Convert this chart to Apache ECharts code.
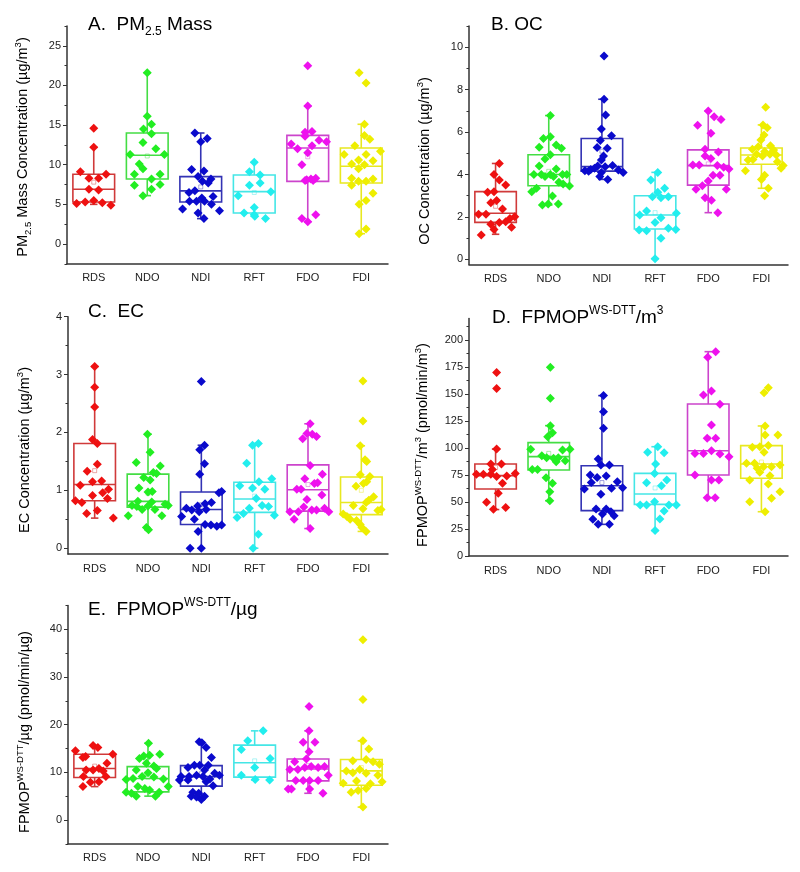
<!DOCTYPE html>
<html><head><meta charset="utf-8">
<script src="https://cdn.jsdelivr.net/npm/echarts@6/dist/echarts.min.js"></script>
<style>html,body{margin:0;padding:0;background:#fff}#c{width:800px;height:872px}</style>
</head><body><div id="c"></div>
<script>
// ---------- DATA ----------
const categories = ['RDS', 'NDO', 'NDI', 'RFT', 'FDO', 'FDI'];

// A. PM2.5 mass (µg/m3)
const pmTicks = [0, 5, 10, 15, 20, 25];
const pmMinor = [-2.5, 2.5, 7.5, 12.5, 17.5, 22.5, 27.5];
const pmBoxes = [[5.0,5.3,6.9,8.8,12.2],[6.1,8.2,11.2,14.0,21.6],[3.2,5.3,6.7,8.5,14.0],[3.5,3.9,6.6,8.7,10.3],[2.8,7.9,12.1,13.7,17.4],[1.3,7.7,9.8,12.1,15.1]];
const pmMeans = [7.8, 11.1, 7.2, 6.5, 11.0, 10.0];
const pmValues = [
  [14.6,12.2,9.1,8.3,8.3,8.8,6.9,6.8,5.1,5.3,5.5,5.2,4.9],
  [21.6,16.1,14.5,15.1,13.9,12.8,11.3,11.3,12.0,10.1,9.5,8.8,8.8,8.2,7.4,7.5,6.9,6.1],
  [14.0,13.3,12.9,9.4,9.2,8.5,8.2,7.7,7.9,6.5,6.7,6.0,5.8,5.4,5.4,5.4,5.0,4.4,4.2,3.9,3.2],
  [10.3,9.1,8.7,7.7,7.4,6.1,6.6,4.6,3.9,3.7,3.5,3.2],
  [22.5,17.4,14.1,14.2,13.6,12.6,13.1,12.9,12.0,12.4,11.5,10.0,8.0,8.2,8.3,8.0,8.1,3.2,3.7,2.8],
  [21.6,20.3,15.1,13.7,13.2,12.4,11.3,11.7,11.3,10.6,10.5,10.1,10.0,9.5,8.3,7.9,7.9,8.2,7.4,6.4,5.5,5.0,1.9,1.3]
];
const pmJitter = [
  [0,0,-0.25,-0.09,0.09,0.23,-0.09,0.09,-0.32,-0.16,0,0.16,0.32],
  [0,0,-0.07,0.08,0.08,-0.08,-0.32,0.32,0.16,-0.15,-0.08,-0.24,0.24,0.08,-0.24,0.24,0.08,-0.08],
  [-0.11,0.12,0,-0.17,0.06,-0.05,0.19,0.14,0.03,-0.22,-0.11,0.23,0.02,-0.21,-0.08,0.07,0.2,-0.34,0.35,-0.05,0.06],
  [0,-0.09,0.11,0.11,-0.09,-0.3,0.31,0,-0.19,0,0.01,0.21],
  [0,0,-0.05,0.08,-0.05,-0.31,0.21,0.35,-0.19,0.08,0,-0.11,-0.05,0.06,0.15,0.1,-0.02,-0.11,0.15,0],
  [-0.04,0.09,0.06,0.06,0.16,-0.12,-0.32,0.36,0.09,-0.05,0.22,-0.18,0.06,-0.05,-0.18,-0.05,0.09,0.22,-0.18,0.22,0.09,-0.04,0.09,-0.04]
];

// B. OC (µg/m3)
const ocTicks = [0, 2, 4, 6, 8, 10];
const ocMinor = [1, 3, 5, 7, 9, 11];
const ocBoxes = [[1.18,1.74,2.17,3.19,4.52],[2.56,3.47,4.0,4.93,6.78],[3.77,4.16,4.37,5.7,7.55],[0.03,1.43,2.09,3.0,4.1],[2.2,3.5,4.42,5.16,7.0],[3.35,4.48,4.92,5.25,6.34]];
const ocMeans = [2.5, 4.15, 5.1, 2.2, 4.5, 4.9];
const ocValues = [
  [4.52,4.0,3.74,3.5,3.16,3.19,2.67,2.77,2.37,2.12,2.12,2.01,1.93,1.65,1.74,1.77,1.51,1.41,1.15],
  [6.78,5.7,5.78,5.28,5.39,5.24,4.73,4.93,4.4,4.26,4.0,4.0,4.0,3.9,3.9,4.0,4.0,3.63,3.55,3.46,3.35,3.19,2.99,2.56,2.61,2.61],
  [9.59,7.55,6.81,6.15,5.83,5.6,5.24,5.27,4.87,4.68,4.18,4.24,4.4,4.37,4.42,4.21,4.09,4.09,3.9,3.77,4.15,4.3],
  [4.1,3.74,3.35,3.16,2.9,2.95,2.28,2.09,1.96,2.17,1.73,1.38,1.35,1.46,1.41,0.99,0.03,2.95],
  [7.0,6.72,6.6,6.32,5.94,5.19,5.06,4.87,4.76,4.45,4.45,4.42,4.34,4.26,3.97,3.97,3.69,3.47,3.3,3.3,2.9,2.79,2.2],
  [7.17,6.34,6.2,5.86,5.63,5.31,5.36,5.19,5.08,5.16,4.95,4.87,4.95,4.92,4.68,4.71,4.6,4.42,4.29,4.18,3.97,3.77,3.35,3.0]
];
const ocJitter = [
  [0.07,-0.03,0.07,0.19,-0.15,-0.03,-0.09,0.02,0.13,-0.32,-0.18,0.36,0.27,-0.09,0.07,0.19,0.3,-0.03,-0.27],
  [0.03,-0.1,0.03,-0.18,0.14,0.24,-0.07,0.03,-0.18,0.14,-0.28,-0.14,0.03,-0.07,0.09,0.26,0.34,0.19,0.27,0.39,-0.23,-0.32,0.07,-0.12,-0.01,0.18],
  [0.04,0.04,0.07,-0.01,0.18,-0.03,0.1,-0.09,0.03,-0.01,-0.32,-0.21,-0.08,0.06,0.2,0.31,0.4,-0.01,-0.04,0.11,-0.25,-0.14],
  [0.05,-0.08,0.18,0.05,0.11,0.25,-0.16,-0.29,0.11,0.4,0,-0.3,-0.16,0.25,0.39,0.11,0,-0.05],
  [0,0.11,0.24,-0.2,0.05,-0.06,0.19,-0.06,0.05,-0.29,-0.17,0.17,0.29,0.39,0.09,0.22,0,-0.11,-0.23,0.34,-0.06,0.06,0.18],
  [0.08,0.03,0.11,0.05,-0.01,-0.06,0.17,-0.17,0.06,0.23,-0.09,0.02,0.16,0.28,-0.25,-0.16,0.3,0.41,0.37,-0.3,0.06,0,0.13,0.06]
];

// C. EC (µg/m3)
const ecTicks = [0, 1, 2, 3, 4];
const ecMinor = [0.5, 1.5, 2.5, 3.5];
const ecBoxes = [[0.52,0.82,1.1,1.81,3.14],[0.32,0.71,0.81,1.28,1.97],[0,0.41,0.67,0.97,1.78],[0,0.62,0.85,1.14,1.81],[0.34,0.64,1.01,1.44,2.15],[0.29,0.58,0.79,1.23,1.77]];
const ecMeans = [1.34, 0.95, 0.75, 0.9, 1.1, 1.0];
const ecValues = [
  [3.14,2.78,2.44,1.88,1.81,1.45,1.33,1.09,1.15,1.16,1.02,0.96,0.91,0.86,0.82,0.79,0.6,0.65,0.52],
  [1.97,1.66,1.48,1.42,1.22,1.31,1.29,1.18,1.04,0.97,0.98,0.81,0.8,0.74,0.72,0.67,0.73,0.67,0.76,0.74,0.56,0.56,0.36,0.32],
  [2.88,1.78,1.7,1.46,1.28,0.96,0.98,0.79,0.77,0.73,0.69,0.66,0.63,0.67,0.55,0.5,0.41,0.4,0.38,0.4,0.29,0,0],
  [1.78,1.81,1.47,1.2,1.15,1.08,1.04,1.02,0.86,0.74,0.72,0.69,0.57,0.6,0.53,0.24,0],
  [2.15,1.98,1.97,1.93,1.89,1.43,1.28,1.2,1.12,1.13,1.02,1.02,0.92,0.84,0.63,0.63,0.71,0.66,0.66,0.69,0.63,0.5,0.34],
  [2.89,2.2,1.77,1.53,1.5,1.27,1.24,1.15,1.12,1.07,0.89,0.83,0.79,0.74,0.68,0.65,0.67,0.59,0.55,0.5,0.48,0.41,0.36,0.29]
];
const ecJitter = [
  [0,0,0,-0.04,0.05,0.05,-0.14,-0.27,-0.04,0.13,0.26,0.15,-0.04,0.24,-0.36,-0.24,-0.15,0.05,0.35],
  [-0.01,0.04,-0.22,0.23,-0.08,0.1,0.16,0.04,-0.17,0,0.08,-0.19,0.07,-0.3,-0.21,-0.11,0,0.13,0.32,0.38,-0.37,0.26,-0.03,0.01],
  [0,0.06,-0.03,0.06,-0.03,0.33,0.38,0.19,0.07,-0.07,-0.28,-0.18,-0.04,0.09,-0.37,-0.13,0.07,0.18,0.29,0.38,-0.06,-0.21,0],
  [-0.04,0.07,-0.15,0.32,0.08,-0.28,-0.04,0.19,0.03,0.14,0.26,-0.1,0.37,-0.21,-0.33,0.07,-0.03],
  [0.04,-0.02,0.08,0.16,-0.1,0.04,0.27,-0.06,0.12,0.18,-0.21,-0.13,0.26,-0.02,-0.34,-0.18,-0.08,0.07,0.16,0.31,0.39,-0.26,0.04],
  [0.03,0.03,-0.02,0.07,0.1,-0.02,0.16,0.1,0.04,-0.1,0.23,0.14,0.09,-0.15,0.03,0.31,0.37,-0.34,-0.27,-0.21,-0.09,-0.02,0.01,0.09]
];

// D. FPMOP WS-DTT per m3 (pmol/min/m3)
const m3Ticks = [0, 25, 50, 75, 100, 125, 150, 175, 200];
const m3Minor = [12.5, 37.5, 62.5, 87.5, 112.5, 137.5, 162.5, 187.5, 212.5];
const m3Boxes = [[43,62,74.4,85.2,99],[51.2,79.6,92,105,120.7],[29.3,42,65.1,83.6,148.5],[23.5,47.8,57.4,76.5,101.2],[54,75,97.5,140.7,189.2],[41,72,85.2,102.2,120.4]];
const m3Means = [82, 95, 68, 63, 109, 87];
const m3Values = [
  [170,155,99,85.2,85.2,80,75.6,75.6,75.6,73.5,74,76.5,67.3,58,49.7,43.2,44.8],
  [174.7,146,120.7,114.2,110.5,98.8,98.1,98.8,92.9,91,90.4,91,88.3,87.3,80.2,80.2,72.5,67.3,59.6,51.2],
  [148.5,133.6,118.2,89.8,84.3,84.3,75,72.8,74,68.8,68,63.3,62.7,62,57.1,43.5,43.5,41,38.9,37.3,34,29.3,29.3],
  [101.2,96,95.7,85.2,76.5,70.4,67.9,65,50.3,47.2,47.2,47.2,47.2,41.7,34.3,23.5],
  [189.2,184,152.8,149,140.4,121.3,109,109,95,95,97.5,94.4,92,75,70.4,70.4,54,54],
  [151.2,155.9,120.4,112,112,100.6,101.2,102.2,96,85.8,85.8,82.7,81.2,82.7,84.3,77.5,74.4,70.4,66.7,59.6,50.3,53.4,41]
];
const m3Jitter = [
  [0.02,0.02,0.02,-0.09,0.11,-0.06,-0.36,-0.23,-0.09,0.02,0.21,0.37,0.13,0.05,-0.17,-0.04,0.19],
  [0.03,0.03,0.03,0.07,-0.02,-0.34,0.26,0.4,-0.13,-0.04,0.09,0.18,0.31,0.14,-0.31,-0.21,-0.05,0.07,0.02,0.02],
  [0.03,0.03,0.03,-0.07,-0.02,0.14,-0.22,-0.09,0.08,0.29,-0.2,0.39,0.18,-0.33,-0.02,-0.11,0.08,0.17,0.01,0.23,-0.17,-0.07,0.14],
  [0.05,-0.14,0.17,0.01,-0.01,0.22,-0.16,0.12,-0.01,-0.28,-0.16,0.26,0.4,0.17,0.09,0],
  [0.14,-0.01,0.06,-0.09,0.22,0.06,-0.02,0.14,-0.25,-0.09,0.06,0.22,0.39,-0.25,0.2,0.06,-0.02,0.13],
  [0.05,0.13,0.07,0.07,0.31,-0.17,-0.03,0.13,0.05,-0.28,-0.13,0.04,-0.08,0.19,0.35,-0.03,0.16,-0.22,0.13,0.35,-0.22,0.19,0.07]
];

// E. FPMOP WS-DTT per µg (pmol/min/µg)
const ugTicks = [0, 10, 20, 30, 40];
const ugMinor = [-5, 5, 15, 25, 35, 45];
const ugBoxes = [[7.0,8.9,10.8,13.8,15.6],[5.0,5.9,8.7,11.2,16.1],[4.3,7.1,9.1,11.4,16.4],[8.4,9.0,12.0,15.7,18.7],[5.6,8.2,10.7,12.8,18.7],[2.7,7.3,10.3,12.7,16.6]];
const ugMeans = [11.3, 9.0, 9.7, 12.4, 11.4, 11.0];
const ugValues = [
  [14.5,13.3,15.6,15.2,13.8,13.1,11.9,10.5,10.5,10.8,10.3,9.1,9.1,7.9,8.0,7.0],
  [16.1,12.9,13.4,13.6,13.8,10.5,11.9,11.3,10.8,8.5,8.7,9.1,9.9,9.0,8.6,7.0,7.0,6.6,6.3,5.8,5.6,5.0,5.0,5.8],
  [16.4,16.2,15.2,13.1,11.5,11.5,11.5,11.0,10.5,9.4,9.8,9.1,9.1,9.4,9.1,8.6,8.4,8.4,8.0,7.2,5.8,5.6,5.0,4.8,4.3,5.0],
  [18.7,16.6,14.8,12.9,9.4,11.0,8.5,8.4],
  [23.8,18.7,16.3,16.3,14.3,12.2,12.8,10.6,10.6,11.0,11.2,11.0,11.2,9.4,8.3,8.3,8.3,8.3,6.5,6.5,6.5,5.6],
  [37.8,25.3,16.6,14.9,12.4,12.7,12.2,11.7,10.3,10.6,9.9,9.8,9.4,7.7,8.2,7.6,8.0,6.2,6.6,5.8,2.7]
];
const ugJitter = [
  [-0.36,-0.17,-0.03,0.06,0.34,-0.22,0.23,-0.16,-0.03,0.08,0.16,-0.21,0.21,-0.08,0.08,-0.22],
  [0.01,-0.16,-0.08,0.03,0.22,-0.22,-0.03,0.11,0.16,-0.41,-0.28,-0.11,0,0.11,0.29,0.38,-0.19,-0.06,0.03,-0.41,-0.31,-0.22,0.14,0.21],
  [-0.04,0.01,0.09,0.19,-0.13,-0.03,0.13,-0.25,0.06,0.34,0.25,-0.38,-0.23,-0.09,0.03,0.16,-0.41,-0.25,0.09,0.22,-0.16,-0.05,-0.19,-0.09,0,0.06],
  [0.16,-0.13,-0.25,0.29,-0.25,0,0.01,0.28],
  [0.02,0.02,-0.09,0.13,0.02,-0.25,-0.03,-0.34,-0.19,-0.06,0.06,0.19,0.31,0.38,-0.09,0.03,0.19,-0.23,-0.31,-0.37,0.03,0.28],
  [0.03,0.03,0.03,0.14,-0.16,0.09,0.22,0.34,-0.28,-0.03,-0.16,0.09,0.31,-0.34,-0.09,0.17,0.39,-0.06,0.09,-0.19,0.03]
];

// ---------- STYLE / LAYOUT ----------
const FONT = '"Liberation Sans", Arial, Helvetica, sans-serif';
const pointColors = ['#ee1111', '#22ee22', '#0a0acc', '#22eeee', '#ee11ee', '#eeee00'];
const boxColors = ['#d03a3a', '#44dd44', '#3333b4', '#44e6e6', '#cc44cc', '#e8e820'];
const AXIS = '#333';

const panels = [
  { values: pmValues, jitter: pmJitter, boxes: pmBoxes, means: pmMeans, ticks: pmTicks, minor: pmMinor, min: -2.5, max: 27.5, grid: { left: 67, top: 26, width: 321, height: 237.8 } },
  { values: ocValues, jitter: ocJitter, boxes: ocBoxes, means: ocMeans, ticks: ocTicks, minor: ocMinor, min: -0.25, max: 11, grid: { left: 469, top: 26.1, width: 319, height: 238.5 } },
  { values: ecValues, jitter: ecJitter, boxes: ecBoxes, means: ecMeans, ticks: ecTicks, minor: ecMinor, min: -0.1, max: 4, grid: { left: 68, top: 316.7, width: 320, height: 237.3 } },
  { values: m3Values, jitter: m3Jitter, boxes: m3Boxes, means: m3Means, ticks: m3Ticks, minor: m3Minor, min: 0, max: 220, grid: { left: 469, top: 318.4, width: 319, height: 237.6 } },
  { values: ugValues, jitter: ugJitter, boxes: ugBoxes, means: ugMeans, ticks: ugTicks, minor: ugMinor, min: -5, max: 45, grid: { left: 68, top: 605.5, width: 320, height: 238.3 } }
];

const grids = [], xAxes = [], yAxes = [], series = [];

function boxRender(params, api) {
  const i = api.value(0);
  const lo = api.value(1), q1 = api.value(2), md = api.value(3), q3 = api.value(4), hi = api.value(5), mn = api.value(6);
  const col = boxColors[i];
  const HW = 0.39, CW = 0.07;
  const tl = api.coord([i - HW, q3]);
  const br = api.coord([i + HW, q1]);
  const c = api.coord([i, md]);
  const pHi = api.coord([i, hi]);
  const pLo = api.coord([i, lo]);
  const cl = api.coord([i - CW, md])[0], cr = api.coord([i + CW, md])[0];
  const pm = api.coord([i, mn]);
  const ls = { stroke: col, lineWidth: 1.6, fill: 'none' };
  return {
    type: 'group',
    children: [
      { type: 'line', shape: { x1: c[0], y1: tl[1], x2: c[0], y2: pHi[1] }, style: ls },
      { type: 'line', shape: { x1: c[0], y1: br[1], x2: c[0], y2: pLo[1] }, style: ls },
      { type: 'line', shape: { x1: cl, y1: pHi[1], x2: cr, y2: pHi[1] }, style: ls },
      { type: 'line', shape: { x1: cl, y1: pLo[1], x2: cr, y2: pLo[1] }, style: ls },
      { type: 'rect', shape: { x: tl[0], y: tl[1], width: br[0] - tl[0], height: br[1] - tl[1] }, style: ls },
      { type: 'line', shape: { x1: tl[0], y1: c[1], x2: br[0], y2: c[1] }, style: ls },
      { type: 'rect', shape: { x: pm[0] - 2, y: pm[1] - 2, width: 4, height: 4 }, style: { stroke: col, lineWidth: 0.8, fill: 'none', opacity: 0.55 } }
    ]
  };
}

panels.forEach((p, g) => {
  grids.push(Object.assign({ outerBoundsMode: 'none', containLabel: false }, p.grid));
  xAxes.push({
    type: 'value', gridIndex: g, min: -0.5, max: 5.5,
    axisLine: { onZero: false, lineStyle: { color: AXIS, width: 1.5 } },
    axisTick: { show: false }, splitLine: { show: false },
    axisLabel: { customValues: [0, 1, 2, 3, 4, 5], formatter: v => categories[Math.round(v)], color: '#222', fontSize: 11, fontFamily: FONT, margin: 9 }
  });
  yAxes.push({
    type: 'value', gridIndex: g, position: 'left', min: p.min, max: p.max,
    axisLine: { show: true, onZero: false, lineStyle: { color: AXIS, width: 1.5 } },
    axisTick: { show: true, customValues: p.ticks, length: 4, lineStyle: { color: AXIS, width: 1 } },
    axisLabel: { customValues: p.ticks, color: '#222', fontSize: 11, fontFamily: FONT, margin: 6 },
    splitLine: { show: false }
  });
  yAxes.push({
    type: 'value', gridIndex: g, position: 'left', min: p.min, max: p.max,
    axisLine: { show: false, onZero: false },
    axisTick: { show: true, customValues: p.minor, length: 2.5, lineStyle: { color: AXIS, width: 1 } },
    axisLabel: { show: false }, splitLine: { show: false }
  });
  series.push({
    type: 'custom', xAxisIndex: g, yAxisIndex: 2 * g, z: 2, silent: true,
    data: p.boxes.map((b, i) => [i, b[0], b[1], b[2], b[3], b[4], p.means[i]]),
    encode: { x: 0, y: [1, 2, 3, 4, 5, 6] },
    renderItem: boxRender
  });
  p.values.forEach((vals, i) => {
    series.push({
      type: 'scatter', xAxisIndex: g, yAxisIndex: 2 * g, z: 3, silent: true,
      symbol: 'diamond', symbolSize: 9,
      itemStyle: { color: pointColors[i], opacity: 1 },
      data: vals.map((v, k) => [i + p.jitter[i][k], v])
    });
  });
});

const titleRich = {
  m: { fontSize: 19, lineHeight: 26, fontFamily: FONT, color: '#111' },
  sub: { fontSize: 12, lineHeight: 10, verticalAlign: 'bottom', fontFamily: FONT, color: '#111' },
  sup: { fontSize: 12, lineHeight: 14, verticalAlign: 'top', fontFamily: FONT, color: '#111' }
};
const nameRich = {
  m: { fontSize: 14.5, lineHeight: 20, fontFamily: FONT, color: '#111' },
  sub: { fontSize: 9.5, lineHeight: 9.5, verticalAlign: 'bottom', fontFamily: FONT, color: '#111' },
  sup: { fontSize: 9.5, lineHeight: 10, verticalAlign: 'top', fontFamily: FONT, color: '#111' }
};

const titles = [
  { x: 88, y: 25, text: '{m|A.  PM}{sub|2.5}{m| Mass}' },
  { x: 491, y: 25, text: '{m|B. OC}' },
  { x: 88, y: 312, text: '{m|C.  EC}' },
  { x: 492, y: 318, text: '{m|D.  FPMOP}{sup|WS-DTT}{m|/m}{sup|3}' },
  { x: 88, y: 610, text: '{m|E.  FPMOP}{sup|WS-DTT}{m|/µg}' }
];
const names = [
  { x: 23, y: 147, text: '{m|PM}{sub|2.5}{m| Mass Concentration (µg/m}{sup|3}{m|)}' },
  { x: 425, y: 161, text: '{m|OC Concentration (µg/m}{sup|3}{m|)}' },
  { x: 25, y: 450, text: '{m|EC Concentration (µg/m}{sup|3}{m|)}' },
  { x: 423, y: 445, text: '{m|FPMOP}{sup|WS-DTT}{m|/m}{sup|3}{m| (pmol/min/m}{sup|3}{m|)}' },
  { x: 25, y: 732, text: '{m|FPMOP}{sup|WS-DTT}{m|/µg (pmol/min/µg)}' }
];

const graphic = [];
titles.forEach(t => graphic.push({
  type: 'text', x: t.x, y: t.y, z: 10,
  style: { text: t.text, rich: titleRich, align: 'left', verticalAlign: 'middle', fontFamily: FONT, fontSize: 19 }
}));
names.forEach(t => graphic.push({
  type: 'text', x: t.x, y: t.y, rotation: Math.PI / 2, z: 10,
  style: { text: t.text, rich: nameRich, align: 'center', verticalAlign: 'middle', fontFamily: FONT, fontSize: 14.5 }
}));

const chart = echarts.init(document.getElementById('c'), null, { renderer: 'canvas' });
chart.setOption({
  backgroundColor: '#fff',
  animation: false,
  grid: grids,
  xAxis: xAxes,
  yAxis: yAxes,
  series: series,
  graphic: graphic
});
</script></body></html>
